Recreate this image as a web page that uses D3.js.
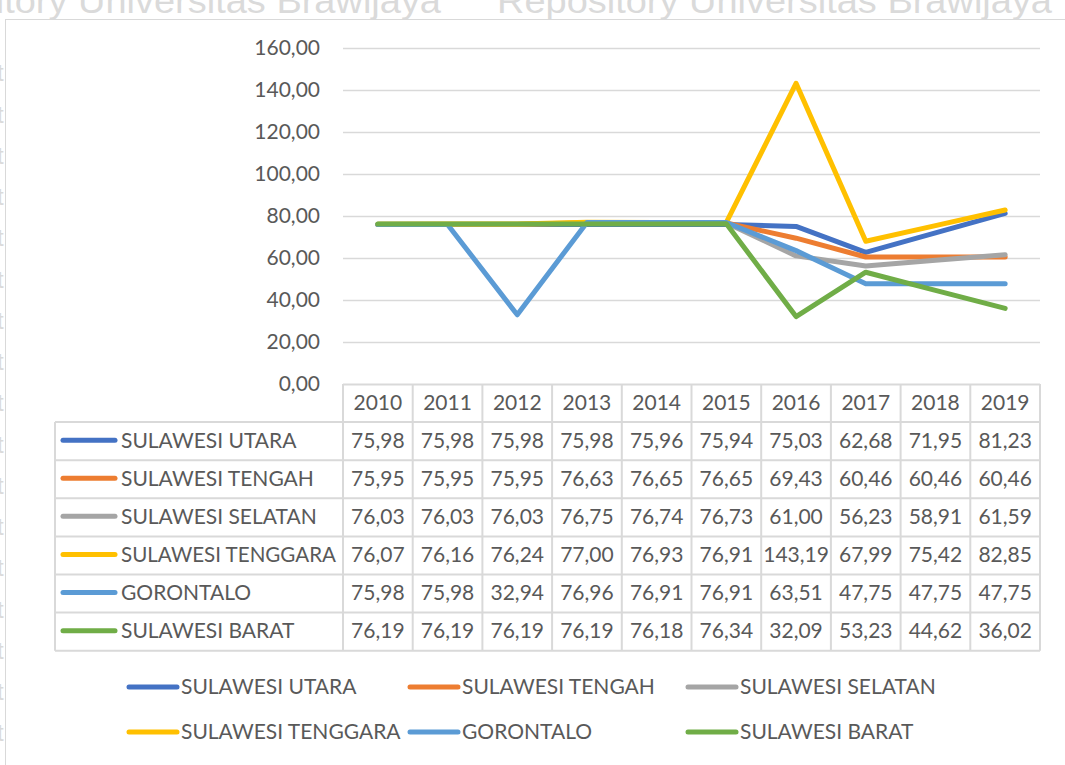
<!DOCTYPE html>
<html>
<head>
<meta charset="utf-8">
<script src="https://cdn.jsdelivr.net/npm/d3@7"></script>
<style>
  body { margin: 0; background: #fff; }
  svg { display: block; font-family: Lato, "Open Sans", sans-serif; }
</style>
</head>
<body>
<svg width="1065" height="765"></svg>
<script>
const years = ["2010", "2011", "2012", "2013", "2014", "2015", "2016", "2017", "2018", "2019"];
const provinces = ["SULAWESI UTARA", "SULAWESI TENGAH", "SULAWESI SELATAN", "SULAWESI TENGGARA", "GORONTALO", "SULAWESI BARAT"];
const sulawesiUtara = [75.98, 75.98, 75.98, 75.98, 75.96, 75.94, 75.03, 62.68, 71.95, 81.23];
const sulawesiTengah = [75.95, 75.95, 75.95, 76.63, 76.65, 76.65, 69.43, 60.46, 60.46, 60.46];
const sulawesiSelatan = [76.03, 76.03, 76.03, 76.75, 76.74, 76.73, 61.00, 56.23, 58.91, 61.59];
const sulawesiTenggara = [76.07, 76.16, 76.24, 77.00, 76.93, 76.91, 143.19, 67.99, 75.42, 82.85];
const gorontalo = [75.98, 75.98, 32.94, 76.96, 76.91, 76.91, 63.51, 47.75, 47.75, 47.75];
const sulawesiBarat = [76.19, 76.19, 76.19, 76.19, 76.18, 76.34, 32.09, 53.23, 44.62, 36.02];
const yTicks = [0, 20, 40, 60, 80, 100, 120, 140, 160];
const colors = ["#4472C4", "#ED7D31", "#A5A5A5", "#FFC000", "#5B9BD5", "#70AD47"];

const series = [sulawesiUtara, sulawesiTengah, sulawesiSelatan, sulawesiTenggara, gorontalo, sulawesiBarat]
  .map((values, i) => ({ name: provinces[i], values: values, color: colors[i] }));

const idLocale = d3.formatLocale({ decimal: ",", thousands: ".", grouping: [3], currency: ["", ""] });
const fmt = idLocale.format(".2f");

const svg = d3.select("svg");
const textColor = "#595959";
const lineColor = "#d9d9d9";
const fontSize = 21;

// watermark from the scanned page
const wm = svg.append("g").attr("fill", "#dadada")
  .style("font-family", "'Liberation Sans', Arial, sans-serif");
[441, 1052].forEach(xEnd => {
  wm.append("text").attr("x", xEnd).attr("y", 13)
    .attr("text-anchor", "end").attr("font-size", 35)
    .attr("textLength", 555).attr("lengthAdjust", "spacingAndGlyphs")
    .text("Repository Universitas Brawijaya");
});
d3.range(0, 18).forEach(k => {
  wm.append("text").attr("x", -3).attr("y", 73 + k * 41.25)
    .attr("dy", "0.35em").attr("font-size", 24).text("t");
});

// chart border
svg.append("rect")
  .attr("x", 5.5).attr("y", 19.5).attr("width", 1100).attr("height", 800)
  .attr("fill", "#fff").attr("stroke", lineColor);

const plotLeft = 343, plotRight = 1040, plotTop = 48, plotBottom = 384;

const x = d3.scaleBand().domain(years).range([plotLeft, plotRight]);
const y = d3.scaleLinear().domain([0, 160]).range([plotBottom, plotTop]);

// gridlines
svg.append("g").selectAll("line")
  .data(yTicks.slice(1))
  .join("line")
  .attr("x1", plotLeft).attr("x2", plotRight)
  .attr("y1", d => Math.round(y(d)) + 0.5).attr("y2", d => Math.round(y(d)) + 0.5)
  .attr("stroke", lineColor).attr("stroke-width", 1.3);

// y axis labels
const yAxis = svg.append("g")
  .attr("transform", `translate(${plotLeft},0)`)
  .call(d3.axisLeft(y).tickValues(yTicks).tickFormat(fmt).tickSize(0).tickPadding(23));
yAxis.select(".domain").remove();
yAxis.selectAll("text").attr("fill", textColor).attr("font-size", fontSize)
  .style("font-family", "Lato, sans-serif");

// lines
const line = d3.line()
  .x((d, i) => x(years[i]) + x.bandwidth() / 2)
  .y(d => y(d));

svg.append("g").selectAll("path")
  .data(series)
  .join("path")
  .attr("d", d => line(d.values))
  .attr("fill", "none")
  .attr("stroke", d => d.color)
  .attr("stroke-width", 5)
  .attr("stroke-linecap", "round")
  .attr("stroke-linejoin", "round");

// data table
const rowH = 38.1;
const tableTop = plotBottom;
const labelLeft = 55;
const table = svg.append("g");
const yr = i => tableTop + rowH * i;

// horizontal borders
table.append("line")
  .attr("x1", plotLeft).attr("x2", plotRight)
  .attr("y1", tableTop + 0.5).attr("y2", tableTop + 0.5)
  .attr("stroke", lineColor).attr("stroke-width", 2);
d3.range(1, provinces.length + 2).forEach(i => {
  table.append("line")
    .attr("x1", labelLeft).attr("x2", plotRight)
    .attr("y1", yr(i)).attr("y2", yr(i))
    .attr("stroke", lineColor).attr("stroke-width", 2);
});
// vertical borders
table.append("line")
  .attr("x1", labelLeft).attr("x2", labelLeft)
  .attr("y1", yr(1)).attr("y2", yr(provinces.length + 1))
  .attr("stroke", lineColor).attr("stroke-width", 2);
years.concat(["end"]).forEach((yv, i) => {
  const xx = plotLeft + x.bandwidth() * i;
  table.append("line")
    .attr("x1", xx).attr("x2", xx)
    .attr("y1", tableTop).attr("y2", yr(provinces.length + 1))
    .attr("stroke", lineColor).attr("stroke-width", 2);
});

// header
table.selectAll("text.year")
  .data(years)
  .join("text")
  .attr("class", "year")
  .attr("x", d => x(d) + x.bandwidth() / 2)
  .attr("y", yr(0) + rowH / 2)
  .attr("dy", "0.35em")
  .attr("text-anchor", "middle")
  .attr("fill", textColor).attr("font-size", fontSize)
  .text(d => d);

// rows
const rows = table.selectAll("g.row")
  .data(series)
  .join("g")
  .attr("class", "row")
  .attr("transform", (d, i) => `translate(0,${yr(i + 1) + rowH / 2 - 1})`);

rows.append("line")
  .attr("x1", 63).attr("x2", 115)
  .attr("stroke", d => d.color).attr("stroke-width", 5)
  .attr("stroke-linecap", "round");

rows.append("text")
  .attr("x", 121).attr("dy", "0.35em")
  .attr("fill", textColor).attr("font-size", fontSize)
  .attr("textLength", d => d.name === "SULAWESI TENGGARA" ? 215 : null)
  .attr("lengthAdjust", "spacingAndGlyphs")
  .text(d => d.name);

rows.selectAll("text.val")
  .data(d => d.values)
  .join("text")
  .attr("class", "val")
  .attr("x", (d, i) => x(years[i]) + x.bandwidth() / 2)
  .attr("dy", "0.35em")
  .attr("text-anchor", "middle")
  .attr("fill", textColor).attr("font-size", fontSize)
  .text(d => fmt(d));

// legend
const legendCols = [127, 408, 686];
const legendRows = [687, 732];
const legend = svg.append("g").selectAll("g")
  .data(series)
  .join("g")
  .attr("transform", (d, i) => `translate(${legendCols[i % 3]},${legendRows[Math.floor(i / 3)]})`);

legend.append("line")
  .attr("x1", 2).attr("x2", 50)
  .attr("stroke", d => d.color).attr("stroke-width", 5)
  .attr("stroke-linecap", "round");

legend.append("text")
  .attr("x", 54).attr("dy", "0.35em")
  .attr("fill", textColor).attr("font-size", fontSize)
  .text(d => d.name);
</script>
</body>
</html>
